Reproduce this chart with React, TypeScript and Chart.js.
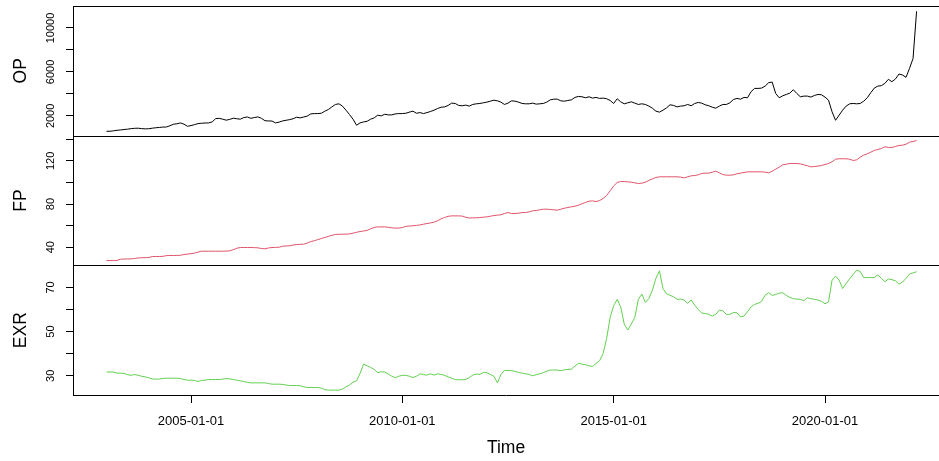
import { useEffect, useRef } from "react";
import { Chart, registerables } from "chart.js";

Chart.register(...registerables);

// Monthly series, first observation 2003-01
const START_YEAR = 2003;
const START_MONTH = 1;

const OP = [
  600, 600, 640, 690, 720, 760, 790, 840, 870, 880,
  840, 820, 830, 880, 920, 950, 980, 990, 1100, 1240,
  1280, 1360, 1250, 1050, 1120, 1200, 1300, 1330, 1350, 1360,
  1450, 1750, 1780, 1700, 1610, 1680, 1790, 1740, 1700, 1850,
  1900, 1780, 1850, 1910, 1780, 1560, 1540, 1530, 1360, 1430,
  1540, 1600, 1660, 1740, 1880, 1820, 1900, 1980, 2180, 2210,
  2210, 2240, 2430, 2580, 2820, 3040, 3100, 2890, 2520, 2120,
  1700, 1150, 1360, 1450, 1510, 1700, 1820, 2060, 2000, 2150,
  2090, 2090, 2180, 2210, 2210, 2240, 2340, 2430, 2240, 2300,
  2210, 2300, 2400, 2520, 2670, 2790, 2820, 2950, 3160, 3130,
  2950, 2920, 2980, 2890, 3040, 3100, 3130, 3190, 3250, 3340,
  3430, 3370, 3250, 3040, 3160, 3370, 3340, 3250, 3130, 3100,
  3100, 3160, 3070, 3100, 3130, 3250, 3460, 3520, 3520, 3370,
  3340, 3400, 3460, 3680, 3770, 3740, 3650, 3740, 3620, 3680,
  3590, 3620, 3560, 3400, 3130, 3560, 3280, 3100, 3190, 3280,
  3160, 3040, 3100, 3040, 2890, 2700, 2430, 2340, 2520, 2730,
  3010, 2950, 2820, 2890, 2920, 3040, 2920, 3130, 3220, 3160,
  3010, 2920, 2790, 2700, 2890, 3040, 3040, 3190, 3490, 3590,
  3520, 3680, 3650, 4200, 4500, 4500, 4530, 4710, 5020, 5080,
  4040, 3650, 3830, 3950, 4070, 4380, 4040, 3740, 3800, 3800,
  3710, 3860, 3950, 3920, 3710, 3430, 2370, 1600, 2060, 2520,
  2890, 3100, 3130, 3100, 3130, 3340, 3650, 4110, 4530, 4710,
  4750, 4960, 5330, 5110, 5360, 5810, 5720, 5510, 6330, 7220,
  11520,
];

const FP = [
  27.6, 27.6, 27.6, 27.8, 28.9, 29.0, 29.1, 29.2, 29.5, 30.1,
  30.2, 30.3, 30.4, 31.3, 31.4, 31.4, 31.5, 32.2, 32.3, 32.3,
  32.4, 32.5, 33.2, 33.6, 34.0, 34.5, 35.5, 36.3, 36.3, 36.3,
  36.3, 36.3, 36.3, 36.3, 36.4, 36.6, 37.7, 39.0, 39.7, 39.7,
  39.7, 39.7, 39.6, 39.4, 38.8, 38.5, 39.3, 39.7, 39.8, 40.0,
  40.9, 41.2, 41.3, 42.0, 42.4, 42.6, 42.8, 43.8, 45.2, 46.0,
  47.0, 48.0, 49.0, 50.0, 51.0, 51.8, 52.0, 52.0, 52.1, 52.3,
  53.0, 53.8, 54.5, 55.0, 55.6, 57.0, 58.3, 58.8, 58.8, 58.8,
  58.5, 57.9, 57.7, 57.7, 58.2, 59.3, 59.6, 59.8, 60.2, 60.6,
  61.3, 61.9, 62.5, 63.2, 64.5, 66.3, 67.5, 68.6, 69.0, 69.0,
  69.0, 68.8, 67.7, 67.0, 67.2, 67.2, 67.5, 67.8, 68.1, 68.7,
  69.3, 69.7, 70.0, 71.2, 72.1, 71.2, 71.2, 71.5, 72.1, 72.1,
  72.7, 73.7, 74.0, 74.6, 75.2, 75.2, 74.9, 74.6, 74.3, 75.2,
  76.1, 76.8, 77.4, 78.0, 78.9, 80.2, 81.4, 82.6, 82.9, 82.3,
  83.2, 85.1, 87.9, 92.2, 96.8, 99.9, 100.8, 100.8, 100.5, 100.2,
  99.6, 99.0, 99.3, 100.2, 101.8, 103.3, 104.6, 105.2, 105.2, 105.2,
  105.2, 105.2, 105.2, 104.9, 104.2, 105.2, 106.1, 106.4, 107.0, 108.3,
  108.6, 108.6, 109.5, 110.4, 108.9, 107.3, 106.7, 106.7, 107.0, 108.0,
  108.6, 109.2, 109.8, 109.8, 109.8, 109.8, 109.8, 109.5, 108.9, 110.4,
  112.3, 114.1, 116.3, 116.9, 117.5, 117.5, 117.5, 117.2, 116.3, 115.4,
  114.4, 114.7, 115.1, 115.7, 116.6, 117.5, 119.1, 121.5, 121.9, 121.9,
  121.9, 121.5, 120.3, 120.9, 123.4, 125.3, 126.5, 128.0, 129.6, 130.5,
  131.4, 133.0, 132.4, 132.4, 133.3, 134.2, 134.5, 135.4, 137.3, 137.9,
  138.8,
];

const EXR = [
  31.7, 31.7, 31.7, 31.2, 31.2, 31.1, 30.5, 30.2, 30.6, 30.2,
  29.8, 29.5, 29.1, 28.6, 28.5, 28.5, 28.8, 28.9, 28.9, 28.9,
  28.9, 28.8, 28.3, 28.0, 28.0, 27.9, 27.4, 27.9, 28.0, 28.3,
  28.3, 28.3, 28.3, 28.5, 28.8, 28.6, 28.3, 28.0, 27.7, 27.4,
  27.0, 26.8, 26.8, 26.8, 26.8, 26.8, 26.5, 26.2, 26.2, 26.2,
  26.1, 25.8, 25.6, 25.6, 25.6, 25.5, 25.0, 24.7, 24.7, 24.7,
  24.7, 24.4, 23.7, 23.5, 23.5, 23.5, 23.5, 24.0, 25.0, 25.8,
  27.1, 27.7, 31.1, 35.3, 34.5, 33.8, 32.9, 31.4, 31.8, 31.7,
  30.8, 29.8, 29.1, 29.8, 30.2, 30.2, 29.8, 29.2, 29.8, 30.9,
  30.5, 30.3, 30.9, 30.3, 30.9, 30.6, 30.2, 29.5, 28.9, 28.3,
  28.2, 28.2, 28.3, 29.2, 30.3, 30.8, 30.6, 31.5, 31.4, 30.6,
  29.8, 26.8, 30.6, 32.4, 32.4, 32.3, 32.0, 31.5, 31.2, 30.9,
  30.6, 30.0, 30.5, 30.9, 31.4, 32.1, 32.6, 32.6, 32.6, 32.3,
  32.7, 32.9, 33.0, 34.4, 35.6, 35.3, 35.0, 34.5, 34.2, 35.6,
  36.8, 40.1, 46.9, 56.4, 61.8, 64.6, 61.2, 53.4, 50.7, 53.4,
  56.4, 64.6, 67.0, 63.2, 65.0, 68.8, 74.1, 77.5, 69.5, 67.1,
  66.4, 65.8, 64.6, 64.7, 64.3, 62.8, 64.3, 62.0, 60.0, 58.4,
  58.2, 57.8, 57.0, 57.8, 59.7, 59.4, 57.8, 57.8, 58.7, 58.5,
  56.7, 57.0, 59.0, 61.2, 62.3, 62.8, 63.7, 66.5, 67.6, 66.4,
  66.8, 67.4, 67.6, 66.4, 65.5, 64.9, 64.7, 64.6, 64.0, 65.3,
  64.9, 64.6, 64.3, 63.7, 62.6, 63.4, 73.3, 75.1, 73.3, 69.5,
  71.8, 73.9, 75.9, 77.8, 77.2, 74.4, 74.5, 74.5, 74.5, 75.7,
  74.1, 72.6, 73.8, 73.5, 73.0, 71.5, 72.4, 74.1, 76.0, 76.6,
  77.1,
];

const X_TICKS = [2005, 2010, 2015, 2020];
const OP_TICKS = [2000, 4000, 6000, 8000, 10000];
const OP_LABELS = [2000, 6000, 10000];
const FP_TICKS = [40, 60, 80, 100, 120, 140];
const FP_LABELS = [40, 80, 120];
const EXR_TICKS = [30, 40, 50, 60, 70];
const EXR_LABELS = [30, 50, 70];

const FONT = "'Liberation Sans', Arial, Helvetica, sans-serif";

function toPoints(values: number[]) {
  return values.map((v, i) => ({ x: START_YEAR + (START_MONTH - 1 + i) / 12, y: v }));
}

function yAxis(
  title: string,
  min: number,
  max: number,
  ticks: number[],
  labels: number[],
  padding: number
) {
  return {
    type: "linear" as const,
    position: "left" as const,
    stack: "panels",
    stackWeight: 1,
    min,
    max,
    afterBuildTicks: (s: any) => {
      s.ticks = ticks.map((v) => ({ value: v }));
    },
    afterFit: (s: any) => {
      s.width = 73;
      s.paddingTop = 0;
      s.paddingBottom = 0;
      s.paddingLeft = 0;
      s.paddingRight = 0;
    },
    grid: {
      display: true,
      drawOnChartArea: false,
      drawTicks: true,
      tickLength: 7,
      color: "#000",
      lineWidth: 1,
    },
    border: { display: true, color: "#000", width: 1 },
    ticks: {
      font: { family: FONT, size: 11 },
      color: "#000",
      minRotation: 90,
      maxRotation: 90,
      crossAlign: "center" as const,
      padding,
      autoSkip: false,
      callback: (v: any) => (labels.includes(Number(v)) ? String(v) : ""),
    },
    title: {
      display: true,
      text: title,
      color: "#000",
      font: { family: FONT, size: 17.5 },
      padding: { top: 10.5, bottom: 0 },
    },
  };
}

const framePlugin = {
  id: "panelFrame",
  afterDatasetsDraw(chart: any) {
    const { ctx, chartArea } = chart;
    const ids = ["yOP", "yFP", "yEXR"];
    ctx.save();
    ctx.strokeStyle = "#000";
    ctx.lineWidth = 1;
    ids.forEach((id) => {
      const s = chart.scales[id];
      const y = Math.round(s.top) + 0.5;
      ctx.beginPath();
      ctx.moveTo(chartArea.left, y);
      ctx.lineTo(chartArea.right, y);
      ctx.stroke();
    });
    ctx.restore();
  },
};

export default function App() {
  const ref = useRef<HTMLCanvasElement | null>(null);

  useEffect(() => {
    if (!ref.current) return;
    const chart = new Chart(ref.current, {
      type: "line",
      data: {
        datasets: [
          {
            label: "OP",
            data: toPoints(OP),
            yAxisID: "yOP",
            borderColor: "#000000",
            borderWidth: 1,
            pointRadius: 0,
            tension: 0,
          },
          {
            label: "FP",
            data: toPoints(FP),
            yAxisID: "yFP",
            borderColor: "#DF536B",
            borderWidth: 1,
            pointRadius: 0,
            tension: 0,
          },
          {
            label: "EXR",
            data: toPoints(EXR),
            yAxisID: "yEXR",
            borderColor: "#61D04F",
            borderWidth: 1,
            pointRadius: 0,
            tension: 0,
          },
        ],
      },
      options: {
        animation: false,
        responsive: false,
        maintainAspectRatio: false,
        events: [],
        layout: {
          autoPadding: false,
          padding: { top: 6, right: 0, bottom: 0, left: 0 },
        },
        plugins: {
          legend: { display: false },
          tooltip: { enabled: false },
          title: { display: false },
        },
        scales: {
          x: {
            type: "linear",
            position: "bottom",
            min: 2002.208,
            max: 2022.697,
            afterBuildTicks: (s: any) => {
              s.ticks = X_TICKS.map((v) => ({ value: v }));
            },
            afterFit: (s: any) => {
              s.height = 66;
              s.paddingLeft = 0;
              s.paddingRight = 0;
              s.paddingTop = 0;
              s.paddingBottom = 0;
            },
            grid: {
              display: true,
              drawOnChartArea: false,
              drawTicks: true,
              tickLength: 8,
              color: "#000",
              lineWidth: 1,
            },
            border: { display: true, color: "#000", width: 1 },
            ticks: {
              font: { family: FONT, size: 13 },
              color: "#000",
              padding: 10.5,
              maxRotation: 0,
              minRotation: 0,
              autoSkip: false,
              callback: (v: any) => `${v}-01-01`,
            },
            title: {
              display: true,
              text: "Time",
              color: "#000",
              font: { family: FONT, size: 17.5 },
              padding: { top: 0, bottom: 2.2 },
            },
          },
          yEXR: yAxis("EXR", 21.3, 80.0, EXR_TICKS, EXR_LABELS, 9.4),
          yFP: yAxis("FP", 23.2, 143.3, FP_TICKS, FP_LABELS, 6.3),
          yOP: yAxis("OP", 200, 12000, OP_TICKS, OP_LABELS, 0.2),
        } as any,
      },
      plugins: [framePlugin],
    });
    return () => chart.destroy();
  }, []);

  return (
    <div style={{ position: "absolute", left: 0, top: 0, width: 939, height: 461, background: "#fff" }}>
      <canvas ref={ref} width={939} height={461} style={{ display: "block", width: 939, height: 461 }} />
    </div>
  );
}
